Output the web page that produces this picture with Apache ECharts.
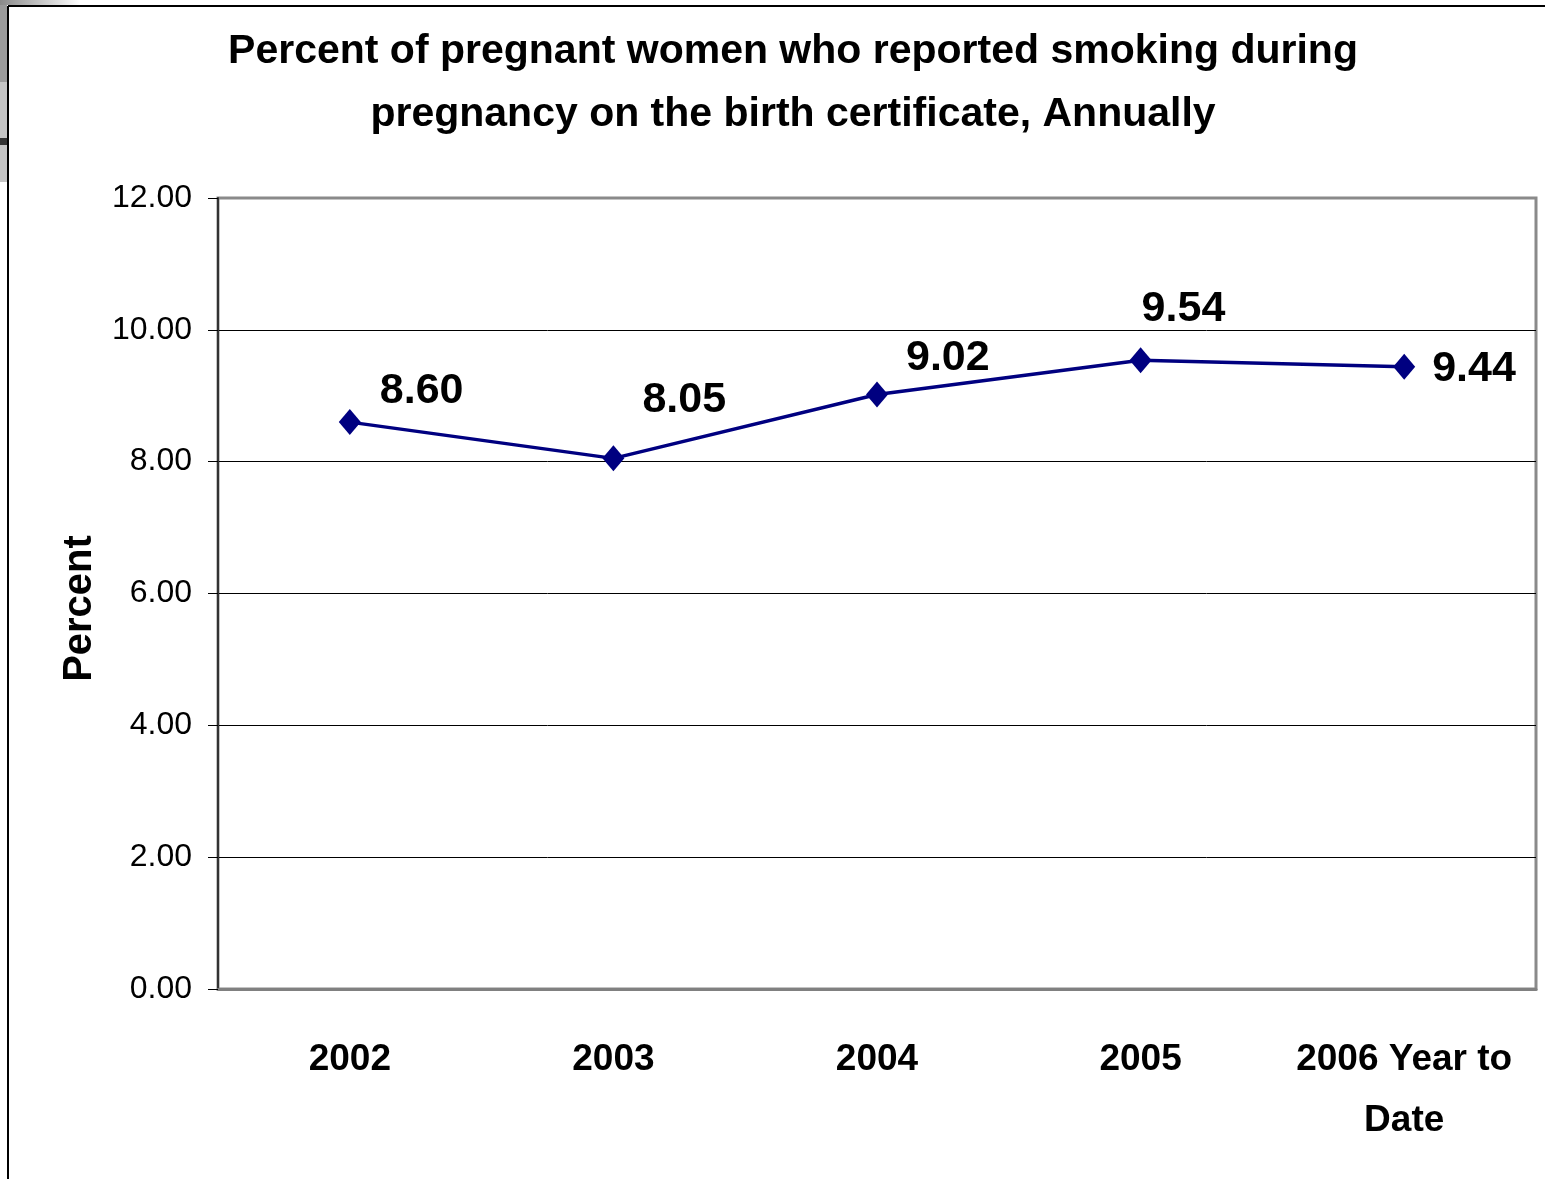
<!DOCTYPE html>
<html>
<head>
<meta charset="utf-8">
<script src="https://cdn.jsdelivr.net/npm/echarts@6/dist/echarts.min.js"></script>
<style>
  html, body { margin: 0; padding: 0; background: #fff; }
  #chart { width: 1545px; height: 1179px; }
</style>
</head>
<body>
<div id="chart"></div>
<script>
// data
const categories = ['2002', '2003', '2004', '2005', '2006 Year to\nDate']
const percents = [8.60, 8.05, 9.02, 9.54, 9.44]
const yTicks = { min: 0, max: 12, interval: 2 }

// where each value label sits relative to its marker (hand placed in the original)
const labelOffsets = [[14, -31], [13, -58], [13, -36], [-15, -51], [12, 2]]

const font = "'Liberation Sans', Arial, sans-serif"

const myChart = echarts.init(document.getElementById('chart'))

const option = {
  backgroundColor: '#fff',
  animation: false,
  title: {
    text: 'Percent of pregnant women who reported smoking during\npregnancy on the birth certificate, Annually',
    left: 788,
    top: 15,
    textAlign: 'center',
    textStyle: {
      fontFamily: font,
      fontWeight: 'bold',
      fontSize: 41,
      lineHeight: 63,
      color: '#000'
    }
  },
  grid: {
    left: 218,
    right: 9,
    top: 198,
    bottom: 190,
    show: true,
    borderColor: '#8a8a8a',
    borderWidth: 3,
    backgroundColor: '#fff'
  },
  xAxis: {
    type: 'category',
    data: categories,
    axisLine: { lineStyle: { color: '#808080', width: 3 } },
    axisTick: { length: 13, lineStyle: { color: '#000', width: 1 } },
    axisLabel: {
      interval: 0,
      margin: 40,
      fontFamily: font,
      fontWeight: 'bold',
      fontSize: 37,
      lineHeight: 61,
      color: '#000'
    }
  },
  yAxis: {
    type: 'value',
    min: yTicks.min,
    max: yTicks.max,
    interval: yTicks.interval,
    name: 'Percent',
    nameLocation: 'middle',
    nameGap: 118,
    nameTextStyle: {
      fontFamily: font,
      fontWeight: 'bold',
      fontSize: 40,
      padding: [0, 30, 0, 0],
      color: '#000'
    },
    axisLine: { show: true, lineStyle: { color: '#333', width: 2 } },
    axisTick: { show: true, length: 10, inside: false, lineStyle: { color: '#000' } },
    axisLabel: {
      margin: 26,
      formatter: v => v.toFixed(2),
      fontFamily: font,
      fontSize: 32,
      color: '#000'
    },
    splitLine: {
      lineStyle: {
        // last line is the grey top border
        color: ['#000', '#000', '#000', '#000', '#000', '#000', '#8a8a8a'],
        width: 1
      }
    }
  },
  series: [{
    type: 'line',
    data: percents.map((v, i) => ({
      value: v,
      label: { offset: labelOffsets[i] }
    })),
    symbol: 'diamond',
    symbolSize: [22, 26],
    itemStyle: { color: '#000080' },
    lineStyle: { color: '#000080', width: 3.5 },
    label: {
      show: true,
      position: 'right',
      distance: 5,
      formatter: p => p.value.toFixed(2),
      fontFamily: font,
      fontWeight: 'bold',
      fontSize: 43,
      color: '#000'
    }
  }],
  graphic: [
    // slide frame left and top
    { type: 'line', shape: { x1: 8, y1: 6, x2: 8, y2: 1179 }, style: { stroke: '#000', lineWidth: 2 } },
    { type: 'line', shape: { x1: 8, y1: 6, x2: 1545, y2: 6 }, style: { stroke: '#000', lineWidth: 2 } },
    // grey slide remnants at the top left
    { type: 'rect', shape: { x: 0, y: 0, width: 7, height: 82 }, style: { fill: '#9a9a9a' } },
    { type: 'rect', shape: { x: 0, y: 82, width: 7, height: 100 }, style: { fill: '#c4c4c4' } },
    { type: 'rect', shape: { x: 0, y: 138, width: 7, height: 7 }, style: { fill: '#333' } },
    {
      type: 'rect', shape: { x: 0, y: 0, width: 80, height: 5 },
      style: {
        fill: new echarts.graphic.LinearGradient(0, 0, 1, 0, [
          { offset: 0, color: '#8a8a8a' }, { offset: 1, color: '#fff' }
        ])
      }
    }
  ]
}

myChart.setOption(option)
window.onresize = () => {
  myChart.resize()
}
</script>
</body>
</html>
